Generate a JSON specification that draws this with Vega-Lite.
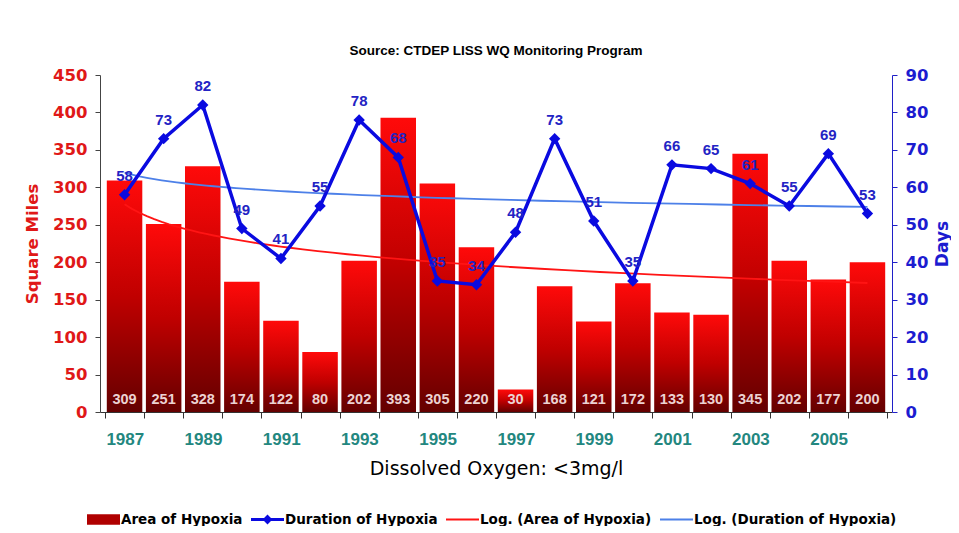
{
  "$schema": "https://vega.github.io/schema/vega-lite/v6.json",
  "width": 792,
  "height": 337,
  "padding": {"left": 24, "top": 43, "right": 0, "bottom": 0},
  "background": "white",
  "title": {"text": "Source: CTDEP LISS WQ Monitoring Program", "font": "Liberation Sans", "fontSize": 13.5, "fontWeight": "bold", "color": "black", "offset": 10, "anchor": "middle"},
  "config": {"view": {"stroke": null}, "axis": {"grid": false}},
  "data": {"values": [
    {"idx": 1, "year": 1987, "area": 309, "days": 58},
    {"idx": 2, "year": 1988, "area": 251, "days": 73},
    {"idx": 3, "year": 1989, "area": 328, "days": 82},
    {"idx": 4, "year": 1990, "area": 174, "days": 49},
    {"idx": 5, "year": 1991, "area": 122, "days": 41},
    {"idx": 6, "year": 1992, "area": 80, "days": 55},
    {"idx": 7, "year": 1993, "area": 202, "days": 78},
    {"idx": 8, "year": 1994, "area": 393, "days": 68},
    {"idx": 9, "year": 1995, "area": 305, "days": 35},
    {"idx": 10, "year": 1996, "area": 220, "days": 34},
    {"idx": 11, "year": 1997, "area": 30, "days": 48},
    {"idx": 12, "year": 1998, "area": 168, "days": 73},
    {"idx": 13, "year": 1999, "area": 121, "days": 51},
    {"idx": 14, "year": 2000, "area": 172, "days": 35},
    {"idx": 15, "year": 2001, "area": 133, "days": 66},
    {"idx": 16, "year": 2002, "area": 130, "days": 65},
    {"idx": 17, "year": 2003, "area": 345, "days": 61},
    {"idx": 18, "year": 2004, "area": 202, "days": 55},
    {"idx": 19, "year": 2005, "area": 177, "days": 69},
    {"idx": 20, "year": 2006, "area": 200, "days": 53}
  ]},
  "encoding": {
    "x": {
      "field": "idx", "type": "quantitative",
      "scale": {"domain": [0.5, 20.5], "nice": false, "zero": false},
      "axis": {
        "values": [0.5,1.5,2.5,3.5,4.5,5.5,6.5,7.5,8.5,9.5,10.5,11.5,12.5,13.5,14.5,15.5,16.5,17.5,18.5,19.5,20.5],
        "labelExpr": "datum.value < 20 && (datum.value + 0.5) % 2 == 1 ? '' + (datum.value + 1986.5) : ''",
        "labelOffset": 19.8, "labelFlush": false, "labelOverlap": false, "labelBound": false,
        "labelColor": "#23877f", "labelFont": "Liberation Sans", "labelFontSize": 17, "labelFontWeight": "bold",
        "labelPadding": 13, "tickSize": 6, "tickColor": "#333333", "domainColor": "#333333",
        "title": "Dissolved Oxygen: <3mg/l", "titleFont": "DejaVu Sans", "titleFontSize": 19, "titleFontWeight": "normal", "titleColor": "black", "titlePadding": 12
      }
    }
  },
  "layer": [
    {
      "encoding": {
        "y": {
          "field": "area", "type": "quantitative",
          "scale": {"domain": [0, 450], "nice": false},
          "axis": {
            "orient": "left", "values": [0,50,100,150,200,250,300,350,400,450],
            "labelColor": "#e01818", "labelFont": "DejaVu Sans", "labelFontSize": 16.5, "labelFontWeight": "bold",
            "labelPadding": 8, "tickSize": 5, "tickColor": "#444444", "domainColor": "#444444",
            "title": "Square Miles", "titleColor": "#e01818", "titleFont": "DejaVu Sans", "titleFontSize": 16.5, "titleFontWeight": "bold", "titlePadding": 12
          }
        }
      },
      "layer": [
        {
          "mark": {"type": "bar", "orient": "vertical", "width": 35.5,
            "color": {"gradient": "linear", "x1": 0, "y1": 0, "x2": 0, "y2": 1,
              "stops": [{"offset": 0, "color": "#ff0a0a"}, {"offset": 0.5, "color": "#c00000"}, {"offset": 1, "color": "#640000"}]}}
        },
        {
          "mark": {"type": "text", "baseline": "middle", "dy": -12, "color": "#ecd2d2", "font": "Liberation Sans", "fontWeight": "bold", "fontSize": 14.5},
          "encoding": {"y": {"datum": 0}, "text": {"field": "area"}}
        },
        {
          "transform": [{"regression": "area", "on": "idx", "method": "log"}],
          "mark": {"type": "line", "strokeWidth": 1.8},
          "encoding": {
            "color": {
              "datum": "Log. (Area of Hypoxia)", "type": "nominal",
              "scale": {"domain": ["Area of Hypoxia", "Duration of Hypoxia", "Log. (Area of Hypoxia)", "Log. (Duration of Hypoxia)"], "range": ["#b00000", "#0a0ae0", "#ff1414", "#4d80e8"]},
              "legend": {
                "orient": "none", "direction": "horizontal", "legendX": -13, "legendY": 428, "title": null,
                "labelFont": "DejaVu Sans", "labelFontSize": 13.5, "labelFontWeight": "bold", "labelColor": "black",
                "labelOffset": 1, "labelLimit": 400, "columnPadding": 8, "symbolSize": 1089, "symbolStrokeWidth": 0,
                "encode": {"symbols": {"update": {
                  "shape": {"signal": "datum.value === 'Area of Hypoxia' ? 'M-1,-0.32H1V0.32H-1Z' : datum.value === 'Duration of Hypoxia' ? 'M-1,-0.09H1V0.09H-1ZM-0.3,0L0,-0.3L0.3,0L0,0.3Z' : 'M-1,-0.06H1V0.06H-1Z'"},
                  "fill": {"signal": "datum.value === 'Area of Hypoxia' ? '#b00000' : datum.value === 'Duration of Hypoxia' ? '#0a0ae0' : datum.value === 'Log. (Area of Hypoxia)' ? '#ff1414' : '#4d80e8'"},
                  "opacity": {"value": 1}
                }}}
              }
            }
          }
        }
      ]
    },
    {
      "encoding": {
        "y": {
          "field": "days", "type": "quantitative",
          "scale": {"domain": [0, 90], "nice": false},
          "axis": {
            "orient": "right", "values": [0,10,20,30,40,50,60,70,80,90],
            "labelColor": "#1c1cd0", "labelFont": "DejaVu Sans", "labelFontSize": 16.5, "labelFontWeight": "bold",
            "labelPadding": 8, "tickSize": 5, "tickColor": "#2020c8", "domainColor": "#2020c8",
            "title": "Days", "titleColor": "#1c1cd0", "titleFont": "DejaVu Sans", "titleFontSize": 17, "titleFontWeight": "bold",
            "titleAngle": 270, "titleBaseline": "top", "titlePadding": 7
          }
        }
      },
      "layer": [
        {
          "transform": [{"regression": "days", "on": "idx", "method": "log"}],
          "mark": {"type": "line", "strokeWidth": 1.8},
          "encoding": {
            "color": {
              "datum": "Log. (Duration of Hypoxia)", "type": "nominal",
              "scale": {"domain": ["Area of Hypoxia", "Duration of Hypoxia", "Log. (Area of Hypoxia)", "Log. (Duration of Hypoxia)"], "range": ["#b00000", "#0a0ae0", "#ff1414", "#4d80e8"]}
            }
          }
        },
        {
          "mark": {"type": "line", "strokeWidth": 3.5, "point": {"shape": "diamond", "filled": true, "size": 130}},
          "encoding": {
            "color": {
              "datum": "Duration of Hypoxia", "type": "nominal",
              "scale": {"domain": ["Area of Hypoxia", "Duration of Hypoxia", "Log. (Area of Hypoxia)", "Log. (Duration of Hypoxia)"], "range": ["#b00000", "#0a0ae0", "#ff1414", "#4d80e8"]}
            }
          }
        },
        {
          "mark": {"type": "text", "baseline": "middle", "dy": -19, "color": "#2323c4", "font": "Liberation Sans", "fontWeight": "bold", "fontSize": 15},
          "encoding": {"text": {"field": "days"}}
        }
      ]
    }
  ],
  "resolve": {"scale": {"y": "independent"}}
}
